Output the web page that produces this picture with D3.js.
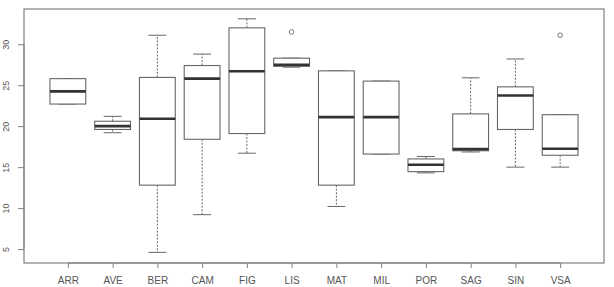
<!DOCTYPE html>
<html><head><meta charset="utf-8">
<script src="https://cdn.jsdelivr.net/npm/d3@7"></script>
<style>body{margin:0;background:#fff}svg{display:block}</style>
</head><body>
<svg id="c" width="614" height="287"></svg>
<script>
const categories = ["ARR","AVE","BER","CAM","FIG","LIS","MAT","MIL","POR","SAG","SIN","VSA"];
const whiskerLow  = [22.7, 19.2, 4.6,  9.2, 16.7, 27.2, 10.2, 16.6, 14.3, 16.85, 15.0, 15.0];
const q1          = [22.7, 19.6, 12.8, 18.4, 19.1, 27.3, 12.8, 16.6, 14.45, 17.0, 19.6, 16.45];
const medians     = [24.25, 20.0, 20.9, 25.8, 26.7, 27.5, 21.1, 21.1, 15.3, 17.2, 23.75, 17.25];
const q3          = [25.8, 20.6, 25.95, 27.4, 32.0, 28.3, 26.75, 25.5, 16.0, 21.5, 24.8, 21.4];
const whiskerHigh = [25.8, 21.2, 31.1, 28.8, 33.1, 28.3, 26.75, 25.5, 16.3, 25.9, 28.2, 21.4];
const outliers    = [[], [], [], [], [], [31.5], [], [], [], [], [], [31.1]];
const yTicks = [5, 10, 15, 20, 25, 30];

const svg = d3.select("#c");
const L = 24, R = 604, T = 9, B = 263;
const n = categories.length;
const x = d3.scaleLinear().domain([0.5 - 0.48, n + 0.5 + 0.48]).range([L, R]);
const y = d3.scaleLinear().domain([3.3, 34.3]).range([B, T]);
const unit = x(2) - x(1);
const bw = 0.8 * unit, sw = 0.4 * unit;
const lineCol = "#666", axisCol = "#808080", textCol = "#555";

// frame
svg.append("rect").attr("x", L).attr("y", T).attr("width", R - L).attr("height", B - T)
  .attr("fill", "none").attr("stroke", axisCol).attr("stroke-width", 1.2);

// y axis
const yAxis = svg.append("g").attr("transform", `translate(${L},0)`)
  .call(d3.axisLeft(y).tickValues(yTicks).tickSize(6).tickFormat(d3.format("d")));
yAxis.select(".domain").attr("stroke", axisCol).attr("d", `M-0,${y(5)}V${y(30)}`);
yAxis.selectAll(".tick line").attr("stroke", axisCol);
yAxis.selectAll(".tick text").attr("fill", textCol).attr("font-family", "Liberation Sans, Arial, sans-serif")
  .attr("font-size", 9).attr("transform", "rotate(-90)").attr("x", 0).attr("dy", 0)
  .attr("y", -15.5).attr("text-anchor", "middle");

// x axis
const xAxis = svg.append("g").attr("transform", `translate(0,${B})`)
  .call(d3.axisBottom(x).tickValues(d3.range(1, n + 1)).tickSize(5).tickFormat(i => categories[i - 1]));
xAxis.select(".domain").attr("stroke", axisCol).attr("d", `M${x(1)},0H${x(n)}`);
xAxis.selectAll(".tick line").attr("stroke", axisCol);
xAxis.selectAll(".tick text").attr("fill", textCol).attr("font-family", "Liberation Sans, Arial, sans-serif")
  .attr("font-size", 10).attr("y", 14);

const g = svg.append("g");
categories.forEach((c, i) => {
  const cx = x(i + 1);
  if (whiskerHigh[i] > q3[i]) {
    g.append("line").attr("x1", cx).attr("x2", cx).attr("y1", y(q3[i])).attr("y2", y(whiskerHigh[i]))
      .attr("stroke", lineCol).attr("stroke-dasharray", "2,1.5");
  }
  if (whiskerLow[i] < q1[i]) {
    g.append("line").attr("x1", cx).attr("x2", cx).attr("y1", y(q1[i])).attr("y2", y(whiskerLow[i]))
      .attr("stroke", lineCol).attr("stroke-dasharray", "2,1.5");
  }
  [whiskerLow[i], whiskerHigh[i]].forEach(v => {
    g.append("line").attr("x1", cx - sw / 2).attr("x2", cx + sw / 2).attr("y1", y(v)).attr("y2", y(v))
      .attr("stroke", lineCol).attr("stroke-width", 1);
  });
  g.append("rect").attr("x", cx - bw / 2).attr("y", y(q3[i])).attr("width", bw)
    .attr("height", Math.max(0.5, y(q1[i]) - y(q3[i])))
    .attr("fill", "#fff").attr("stroke", lineCol).attr("stroke-width", 1.1);
  g.append("line").attr("x1", cx - bw / 2).attr("x2", cx + bw / 2).attr("y1", y(medians[i])).attr("y2", y(medians[i]))
    .attr("stroke", "#333").attr("stroke-width", 2.6);
  outliers[i].forEach(v => {
    g.append("circle").attr("cx", cx).attr("cy", y(v)).attr("r", 2.3)
      .attr("fill", "none").attr("stroke", lineCol).attr("stroke-width", 0.9);
  });
});
</script>
</body></html>
